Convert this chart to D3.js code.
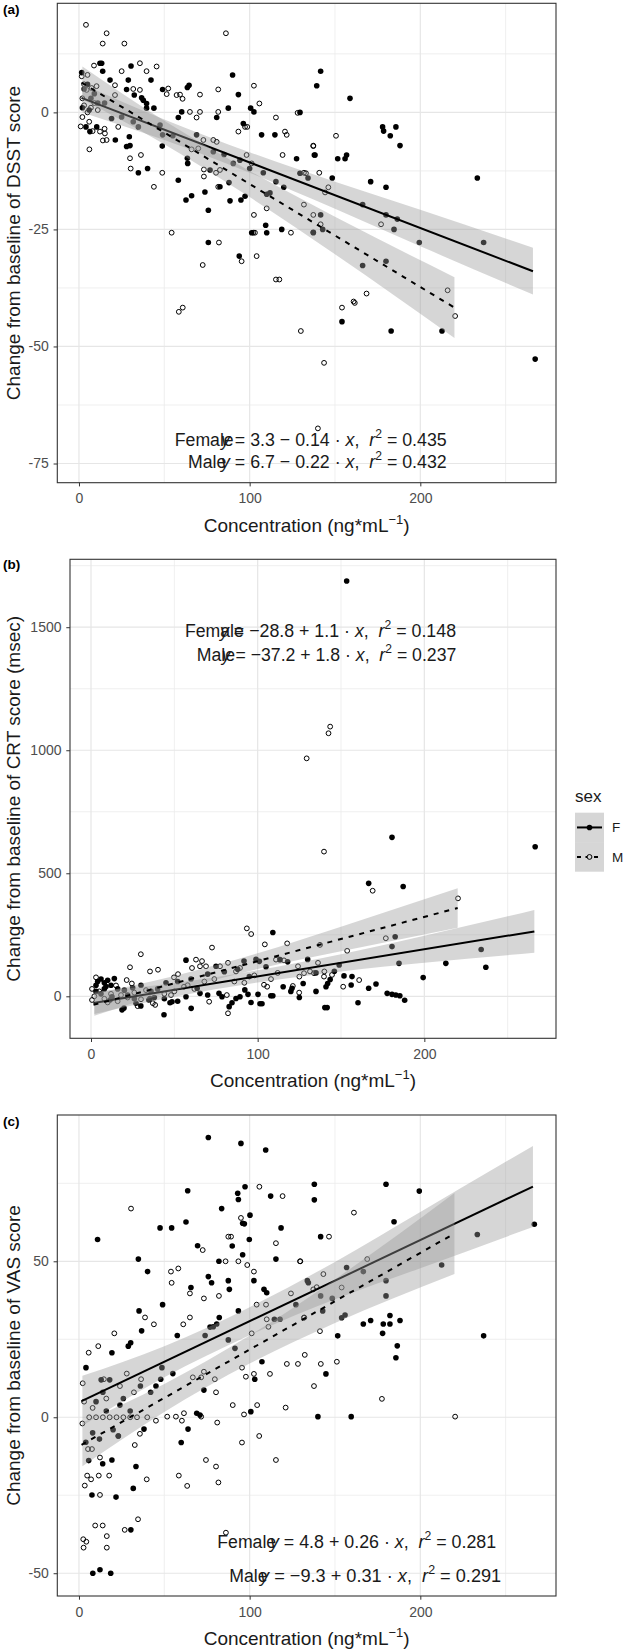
<!DOCTYPE html>
<html><head><meta charset="utf-8">
<script src="https://cdn.jsdelivr.net/npm/d3@7"></script>
<style>body{margin:0;background:#fff}svg{display:block}text{font-family:"Liberation Sans",Arial,sans-serif}</style>
</head><body><svg id="c" width="626" height="1652"></svg>
<script>
// ---------- DATA ----------
const xTicks=[0,100,200], xMinor=[50,150,250];
const dsstTicks=[-75,-50,-25,0], dsstMinor=[-62.5,-37.5,-12.5,12.5];
const crtTicks=[0,500,1000,1500], crtMinor=[250,750,1250,1750];
const vasTicks=[-50,0,50], vasMinor=[-25,25,75];
const sexes=["F","M"];
const sexNames=["Female","Male"];

const dsstF=[[1.6,8.5],[12.3,10.5],[13.3,10.5],[30.5,9.9],[13.9,8.8],[18.2,6.9],[28.9,6.9],[42.2,6.9],[27.9,4.9],[32.4,3.7],[36.7,3.1],[37.7,2.6],[39.6,1.9],[39.6,0.9],[43.9,0.9],[49,4.9],[64.5,5.8],[63.5,5.3],[90,8],[93.4,3.8],[100.6,0.9],[102.5,0.1],[87.5,0.9],[80.7,-1.1],[60.2,0.1],[58.2,-1.1],[96.3,-2.4],[107,-4.8],[114.8,-4.8],[138.3,-9.1],[127.5,-9.9],[4.1,-3.1],[6.4,-4.1],[10.4,-3.1],[21.3,-5.9],[29.5,-5.2],[29.9,-7.1],[27.9,-7.3],[34.8,-12.9],[40.2,-12],[49,-4.8],[48.8,-7.2],[58.2,-14.5],[63.5,-9.8],[63.7,-10.9],[62.7,-18.7],[66,-17.8],[76.8,-12.3],[82.6,-15.9],[73.8,-17],[75.8,-20.9],[88.5,-18.9],[87.9,-15],[94.9,-18.7],[97.3,-17.9],[75.8,-27.8],[93.9,-30.7],[101.2,-25.7],[110,-25.7],[109.4,-24.1],[118.8,-25],[115.4,-14.8],[108,-12.9],[90.4,-10.9],[19.1,-1.3],[31.8,-2],[34.8,-3.1],[47.5,-2.7],[68.9,-4.8],[78.7,-8.4],[129.5,-13],[137.3,-25.6],[110,-17.5],[111.9,-17.2],[94.3,-10.2],[3,5],[5,6],[7,3],[9,4],[11,2],[2,1],[6,0.5],[15,2],[25,-1],[55,-5],[85,-9],[100,-12],[120,-16],[141.6,8.8],[139.3,5.7],[158.8,3.0],[129.5,0.0],[177.9,-3.1],[178.5,-4.0],[182.4,-5.0],[185.7,-3.1],[188.1,-7.1],[137.9,-9.1],[151.6,-9.9],[155.9,-9.9],[156.8,-9.1],[148.4,-14.0],[170.9,-14.8],[179.9,-16.0],[233.4,-14.0],[166.2,-19.7],[179.9,-21.9],[186.5,-22.8],[184.6,-25.0],[199.4,-27.8],[237.1,-27.8],[166.2,-32.7],[179.9,-31.8],[134.2,-14],[141.6,-21.9],[142.8,-25],[137.3,-25.7],[154.1,-44.7],[182.9,-46.7],[212.7,-46.7],[267.3,-52.7]];
const dsstM=[[4.1,18.7],[16.2,16.9],[13.9,14.7],[26.6,14.7],[86.1,16.9],[8.8,10],[35.7,10.5],[39.6,8.8],[45.5,9.8],[25,8.8],[1.6,7.7],[21.1,5.8],[31.8,5],[35.7,4.8],[21.1,3.7],[4.5,4.8],[7.4,5.2],[10.3,5.6],[2,3],[3,1.5],[5,0],[7,1],[9,2],[11,0.5],[2,-1],[6,-2],[1,-3],[8,-4],[14,-6],[15,-3.5],[3,6],[5,8],[12.3,-4.1],[15.2,-4.5],[16.2,-5.9],[23,-3.1],[6.1,-7.9],[52.3,5.1],[51.4,3.9],[57.2,3.7],[59.2,3.8],[60.7,2.9],[70.9,3.8],[81.6,4.9],[102.5,5.7],[105.7,1.9],[81.6,0.1],[70.9,0.1],[68.9,-1.1],[65,0.1],[93.4,-4.1],[97.3,-3.1],[98.6,-3.1],[115.4,-1.1],[120.7,-4.1],[121.7,-4.8],[128.1,-0.1],[137.3,-7.2],[119.3,-9.1],[36.3,-9.1],[29.9,-9.8],[30.3,-12],[48.8,-12.9],[43.9,-15.9],[54.3,-25.7],[66,-7.9],[69.9,-7.7],[72.9,-5.9],[78.7,-5.9],[73.2,-12.2],[73.2,-13.7],[80.3,-12.9],[82.6,-12.3],[81.6,-15.9],[82,-27.8],[72.5,-32.6],[95.3,-31.8],[104.1,-30.7],[102.5,-21.9],[102.1,-25.7],[103.1,-25.7],[124.2,-25.7],[115.4,-35.7],[117.4,-35.7],[101.2,-10.9],[98.2,-9.1],[133,-13],[80.7,-6.3],[110,-20.5],[150.6,-5],[137.3,-7.1],[131.8,-12.9],[140.8,-12.9],[146.1,-16],[144.2,-17.1],[131.8,-19.7],[177,-23.9],[137.3,-21.9],[141.6,-23.9],[168.5,-38.7],[160.9,-40.4],[58.5,-42.6],[60.8,-41.7],[154.1,-41.7],[161.6,-40.7],[130,-46.7],[220.4,-43.5],[143.6,-53.5],[140,-67.5],[216,-38]];

const crtF=[[153.4,1688],[180.6,646],[266.5,608],[166.6,459],[187.3,446],[109.1,259],[182.5,242],[180.6,202],[234.1,190],[212.9,134],[236.9,118],[184.8,134],[199.3,76],[166.6,33],[171,50],[177.7,12],[180.6,8],[182.9,5],[185.3,2],[188.2,-16],[160.2,-26],[151.8,83],[156.1,46],[140.3,-46],[141.7,-46],[141,39],[142,52],[143.5,68],[148.9,127],[127.3,52],[120.6,33],[119.9,20],[115.3,39],[107.9,2],[109.1,2],[101.4,-30],[102.6,-30],[100.2,8],[94.2,8],[82.9,-42],[84.6,-26],[87,-9],[89.4,-2],[92.3,26],[76.8,12],[78.6,-2],[60.1,-49],[57,-2],[63.7,33],[65.4,12],[43.8,-75],[48.6,-22],[47.4,-26],[29.9,-39],[34.7,-15],[35.4,-9],[27,-28],[19.8,-48],[18.6,-55],[11.4,-15],[12.6,-2],[57,147],[75,122],[91.8,143],[156.6,80],[99,150],[101,142],[113.4,149],[118,140],[130,150],[135,95],[146,102],[105,120],[95,80],[88,110],[80,100],[70,90],[60,70],[52,60],[45,55],[40,30],[36,20],[30,45],[25,35],[20,25],[3,20],[6,10],[8,30],[4,60],[6,70],[8,55],[10,65],[12,45],[14,72],[3,45],[9,40],[16,30],[22,5],[26,-10],[38,-5],[44,-10],[52,-20],[70,5],[96,-25],[125,-5],[135,20]];
const crtM=[[129.4,967],[143.5,1096],[142.5,1069],[139.8,588],[169,429],[220.2,398],[93.5,276],[96.1,253],[72.6,198],[117.7,215],[104.3,211],[29.9,171],[23.4,118],[176.9,236],[137.4,209],[153.7,185],[160.9,66],[151.3,39],[144.6,87],[124.9,15],[121.1,42],[103.8,47],[105.7,39],[82.2,-69],[81.5,5],[70.9,-22],[55.8,39],[38.5,-35],[37.1,-28],[3,77],[0.6,30],[0.6,-15],[15,44],[21.4,66],[24.5,52],[35.4,101],[40.2,108],[49.8,77],[52.2,90],[60.6,115],[63,149],[65.4,122],[66.6,143],[69,122],[77.4,122],[82.2,136],[87,101],[89.4,115],[111,149],[115.8,146],[124.2,122],[127.8,94],[131.4,101],[133.8,94],[136.2,136],[139.8,80],[5,20],[8,-10],[12,10],[16,-20],[18,5],[22,-5],[26,15],[30,-12],[33,25],[44,10],[50,20],[58,45],[62,30],[68,60],[74,70],[86,60],[92,55],[98,85],[108,70],[112,95],[125,80],[140,101],[2,0],[10,-25],[28,-40],[48,5]];

const vasF=[[75.8,89.7],[94.9,87.8],[109.4,85.7],[63.7,72.6],[93,71.8],[93.4,69.8],[97.3,73.9],[112.3,70.9],[83.6,66.9],[100.2,64.8],[95.9,62.2],[96.9,62],[62.7,62.6],[47.5,60.7],[54.3,60.7],[118.4,60.7],[10.9,57],[89.8,54.9],[99.8,57],[69.5,55],[95.9,52.1],[34.8,50.7],[82,50],[115.4,50.7],[40.2,46.7],[75.8,45.1],[77.7,43.1],[87.5,43.8],[88.1,41],[102.5,43.8],[65.6,41.6],[108.4,41],[110,39.9],[93.4,34.1],[49,36.1],[35.2,34.1],[36.7,27.7],[82.2,32],[78.7,29],[76.8,28.9],[57.6,26.2],[28.9,22.8],[30.3,23.9],[80.7,29.9],[73.9,26.2],[87.5,24.8],[114.5,31.4],[117.8,31.4],[127.1,36.1],[134.4,43.1],[91.4,22.1],[137.9,74.7],[137.9,69.7],[179.9,74.7],[199.4,72.5],[184.6,62.7],[141.6,57.9],[266.8,61.9],[166.6,29.9],[170.9,31],[178.3,29.9],[182.2,29.9],[182.2,32.6],[188.1,31],[177.9,26.9],[151.6,26.1],[237.1,26.1],[186.5,22.9],[233.4,58.6],[212.5,48.8],[156.8,48],[166.6,46.7],[179.9,43.8],[133.8,43.8],[141.6,38.9],[148.4,38.1],[179.9,38.9],[142.8,34.1],[153.9,31.9],[155.9,32.8],[19.3,20.7],[4.1,15.9],[24,3.9],[45.1,10],[47.9,12.2],[73.2,8.7],[103,12.2],[107.2,17.8],[144.7,13.9],[185.7,19.1],[140,0.2],[159.5,0.2],[100.7,1.8],[69,1.3],[70.9,0.7],[63.9,-3.8],[59.9,-8.1],[38.1,-3.8],[33.4,-15.8],[31.8,-22.8],[19.3,-13.7],[13.9,-14.9],[5.7,-13.9],[21.7,-25.6],[7.6,-24.9],[30.4,-36.1],[8.1,-50],[12.3,-48.9],[18.6,-50],[48.6,15.9],[14,8],[10,5],[16,2],[20,-4],[8,-5],[12,-7],[4,-8],[26,6],[36,10],[42,8],[55,14],[30,2],[13,12],[18,12],[23,-6]];
const vasM=[[105.7,73.9],[119.3,70.9],[30.5,66.9],[94.9,63.9],[87.5,57.9],[89.1,57.9],[115.4,55.8],[72.5,53.6],[85.9,50],[93.4,50],[129.7,50],[98.6,48.8],[102.5,46.7],[53.9,46.7],[58.2,47.7],[54.3,43.1],[65,39.7],[73.2,38.1],[82,38.9],[109.6,36.1],[104.1,36.1],[38.7,32],[65,32],[61.1,29.8],[43.9,29.8],[20.7,26.9],[11.3,22.8],[110,31.4],[111,29],[124.2,39.7],[132,32],[137.3,41],[139.3,41.7],[101.2,26.9],[161.1,65.6],[146.5,57.9],[129.5,50],[168.9,50.7],[143.2,45.9],[153.9,41.6],[131.8,31.9],[141.2,27.6],[5.7,20.7],[2.2,10.9],[14.6,12.2],[32.2,8],[36.4,12.2],[66.7,12.8],[71.6,12.8],[73.2,14.6],[80.3,8],[79.6,12.2],[90.1,3.9],[95.5,15.9],[97.8,13],[102.5,13.9],[104.4,3.9],[111.9,13.9],[121.8,17.1],[128.3,17.1],[132.3,20],[141.7,17.1],[151.1,17.8],[137.7,10],[121.1,3.1],[177.5,5.9],[220.4,0.2],[96.7,0.9],[61.5,1.3],[56.8,0.2],[51.7,0.2],[45.1,-1.1],[71.6,0.2],[60.3,-1.1],[81,-1.7],[105.6,-6],[95.5,-8.1],[115.4,-13.7],[74.4,-13.7],[80.3,-15.8],[58.5,-18.7],[63.4,-22],[81.7,-20.9],[35.7,-5.3],[32.7,-8.9],[39.7,-19.9],[12.3,-12.9],[12.3,-24.9],[4.8,-18.7],[7.1,-19.9],[11.6,-18.7],[17.7,-18.7],[3.4,-21.9],[5.3,-10.2],[7.6,-10.2],[23.1,-6],[9.5,-34.7],[13.9,-34.7],[16.3,-38.1],[16.3,-41.8],[34.6,-32.7],[26.8,-36.1],[2.5,-39.1],[4.3,-39.9],[2.7,-41.8],[86.1,-37],[2,-2],[6,0],[10,0],[14,0],[18,0],[22,0],[26,0],[30,0],[34,0],[40,0],[8,3],[16,6],[24,10],[28,14],[3,5]];

// fitted lines: [intercept, slope], x-range
const dsstCoef=[[3.3,-0.14],[6.7,-0.22]];
const crtCoef=[[-28.8,1.1],[-37.2,1.8]];
const vasCoef=[[4.8,0.26],[-9.3,0.31]];
const fitRange=[[1.5,266],[1.5,220]];
const dsstR2=["0.435","0.432"], crtR2=["0.148","0.237"], vasR2=["0.281","0.291"];
const dsstEq=["3.3 − 0.14","6.7 − 0.22"], crtEq=["−28.8 + 1.1","−37.2 + 1.8"], vasEq=["4.8 + 0.26","−9.3 + 0.31"];

// confidence bands: x, lower, upper
const bandXF=[2,50,100,150,200,266], bandXM=[2,50,100,150,220];
const dsstLoF=[0.0,-5.9,-12.9,-20.6,-28.6,-38.9], dsstHiF=[6.0,-1.5,-8.5,-14.8,-20.8,-28.9];
const dsstLoM=[2.8,-6.8,-18.1,-30.3,-48.2], dsstHiM=[9.8,-1.8,-12.5,-22.3,-35.2];
const crtLoF=[-71.6,-1.8,56.2,101.2,136.2,176.8], crtHiF=[18.4,54.2,106.2,171.2,246.2,350.8];
const crtLoM=[-78.6,22.8,110.8,182.8,278.8], crtHiM=[11.4,82.8,174.8,282.8,438.8];
const vasLoF=[-2.7,12.8,26.3,37.8,47.8,61.0], vasHiF=[13.3,22.8,35.3,49.8,65.8,87.0];
const vasLoM=[-15.7,1.7,17.2,30.2,45.9], vasHiM=[-1.7,10.7,26.2,44.2,71.9];

// ---------- DRAW ----------
const svg=d3.select("#c");
const FONT='"Liberation Sans",Arial,sans-serif';

function drawPanel(p,idx){
  const x=d3.scaleLinear().domain(p.xd).range([p.left,p.right]);
  const y=d3.scaleLinear().domain(p.yd).range([p.bottom,p.top]);
  const g=svg.append("g");
  const cid="clip"+idx;
  svg.append("defs").append("clipPath").attr("id",cid).append("rect")
    .attr("x",p.left).attr("y",p.top).attr("width",p.right-p.left).attr("height",p.bottom-p.top);
  const pg=g.append("g").attr("clip-path",`url(#${cid})`);
  // grid
  pg.selectAll(".xm").data(xMinor).join("line").attr("x1",d=>x(d)).attr("x2",d=>x(d)).attr("y1",p.top).attr("y2",p.bottom).attr("stroke","#ebebeb").attr("stroke-width",0.8);
  pg.selectAll(".ym").data(p.yMinor).join("line").attr("y1",d=>y(d)).attr("y2",d=>y(d)).attr("x1",p.left).attr("x2",p.right).attr("stroke","#ebebeb").attr("stroke-width",0.8);
  pg.selectAll(".xM").data(xTicks).join("line").attr("x1",d=>x(d)).attr("x2",d=>x(d)).attr("y1",p.top).attr("y2",p.bottom).attr("stroke","#e6e6e6").attr("stroke-width",1.2);
  pg.selectAll(".yM").data(p.yTicks).join("line").attr("y1",d=>y(d)).attr("y2",d=>y(d)).attr("x1",p.left).attr("x2",p.right).attr("stroke","#e6e6e6").attr("stroke-width",1.2);
  // points
  pg.selectAll(".pf").data(p.F).join("circle").attr("cx",d=>x(d[0])).attr("cy",d=>y(d[1])).attr("r",2.8).attr("fill","#000");
  pg.selectAll(".pm").data(p.M).join("circle").attr("cx",d=>x(d[0])).attr("cy",d=>y(d[1])).attr("r",2.4).attr("fill","none").attr("stroke","#000").attr("stroke-width",1);
  // smooths: F ribbon, F line, M ribbon, M line
  [0,1].forEach(s=>{
    const bx=s===0?bandXF:bandXM, lo=p.lo[s], hi=p.hi[s];
    const area=d3.area().x(d=>x(d[0])).y0(d=>y(d[1])).y1(d=>y(d[2])).curve(d3.curveMonotoneX);
    pg.append("path").datum(bx.map((v,i)=>[v,lo[i],hi[i]])).attr("d",area).attr("fill","#999").attr("fill-opacity",0.4);
    const c=p.coef[s], r=fitRange[s];
    const ln=d3.line().x(d=>x(d)).y(d=>y(c[0]+c[1]*d));
    pg.append("path").datum(r).attr("d",ln).attr("fill","none").attr("stroke","#000").attr("stroke-width",2)
      .attr("stroke-dasharray",s===0?null:"5,6");
  });
  // border
  g.append("rect").attr("x",p.left).attr("y",p.top).attr("width",p.right-p.left).attr("height",p.bottom-p.top).attr("fill","none").attr("stroke","#333").attr("stroke-width",1.1);
  // axes
  const ax=g.append("g").attr("transform",`translate(0,${p.bottom})`).call(d3.axisBottom(x).tickValues(xTicks).tickSize(3.7).tickPadding(7).tickFormat(d=>String(d)));
  const ay=g.append("g").attr("transform",`translate(${p.left},0)`).call(d3.axisLeft(y).tickValues(p.yTicks).tickSize(3.7).tickPadding(4.8).tickFormat(d=>String(d)));
  [ax,ay].forEach(a=>{a.select(".domain").remove();a.selectAll("line").attr("stroke","#333");a.selectAll("text").attr("fill","#4d4d4d").attr("font-size",14).attr("font-family",FONT);});
  // titles
  g.append("text").attr("x",(p.left+p.right)/2).attr("y",p.bottom+49).attr("text-anchor","middle").attr("font-size",19).attr("fill","#1a1a1a")
    .text("Concentration (ng*mL").append("tspan").attr("font-size",13).attr("dy",-8).text("−1");
  g.select("text:last-of-type");
  const xt=g.selectAll("text").filter(function(){return this.textContent.startsWith("Concentration");});
  xt.append("tspan").attr("dy",8).text(")");
  g.append("text").attr("transform",`translate(19.5,${(p.top+p.bottom)/2}) rotate(-90)`).attr("text-anchor","middle").attr("font-size",19).attr("fill","#1a1a1a").text(p.ytitle);
  g.append("text").attr("x",3).attr("y",p.letterY).attr("font-size",13.5).attr("font-weight","bold").attr("fill","#000").text(p.letter);
  // equation labels
  p.ann.forEach((a,s)=>{
    const lab=g.append("text").attr("x",0).attr("y",a.yb).attr("font-size",19).attr("fill","#1a1a1a").text(sexNames[s]);
    lab.attr("transform",`translate(${a.lx},0) scale(0.93,1)`);
    const t=g.append("text").attr("x",0).attr("y",a.yb).attr("font-size",19).attr("fill","#1a1a1a").style("white-space","pre");
    t.append("tspan").attr("font-style","italic").text("y");
    t.append("tspan").text(" = "+p.eq[s]+" · ");
    t.append("tspan").attr("font-style","italic").text("x");
    t.append("tspan").text(",  ");
    t.append("tspan").attr("font-style","italic").text("r");
    t.append("tspan").attr("font-size",13).attr("dy",-8).text("2");
    t.append("tspan").attr("dy",8).text(" = "+p.r2[s]);
    const w=t.node().getBBox().width;
    t.attr("transform",`translate(${a.x0},0) scale(${(a.x1-a.x0)/w},1)`);
  });
}

drawPanel({left:57.3,right:556,top:3.3,bottom:482.7,xd:[-12.7,279.5],yd:[-79.1,23.3],yTicks:dsstTicks,yMinor:dsstMinor,
  F:dsstF,M:dsstM,coef:dsstCoef,lo:[dsstLoF,dsstLoM],hi:[dsstHiF,dsstHiM],eq:dsstEq,r2:dsstR2,
  ytitle:"Change from baseline of DSST score",letter:"(a)",letterY:14,
  ann:[{lx:174.8,yb:445.7,x0:221,x1:448.8},{lx:188,yb:468.3,x0:221,x1:448.8}]},0);
drawPanel({left:70,right:556,top:559.3,bottom:1038.3,xd:[-12.6,279],yd:[-170.7,1776],yTicks:crtTicks,yMinor:crtMinor,
  F:crtF,M:crtM,coef:crtCoef,lo:[crtLoF,crtLoM],hi:[crtHiF,crtHiM],eq:crtEq,r2:crtR2,
  ytitle:"Change from baseline of CRT score (msec)",letter:"(b)",letterY:569,
  ann:[{lx:185,yb:636.7,x0:220,x1:458},{lx:196.7,yb:661,x0:221.7,x1:458.3}]},1);
drawPanel({left:57.3,right:556,top:1115,bottom:1596,xd:[-12.7,279.5],yd:[-57.3,96.9],yTicks:vasTicks,yMinor:vasMinor,
  F:vasF,M:vasM,coef:vasCoef,lo:[vasLoF,vasLoM],hi:[vasHiF,vasHiM],eq:vasEq,r2:vasR2,
  ytitle:"Change from baseline of VAS score",letter:"(c)",letterY:1126,
  ann:[{lx:217.3,yb:1548.3,x0:270,x1:498.3},{lx:229.3,yb:1581.7,x0:260,x1:503.3}]},2);

// legend
const lg=svg.append("g");
lg.append("text").attr("x",575).attr("y",802.3).attr("font-size",17).attr("fill","#1a1a1a").text("sex");
const keyY=d3.scaleBand().domain(sexes).range([812.7,871.7]);
sexes.forEach((s,i)=>{
  const cy=keyY(s)+keyY.bandwidth()/2;
  lg.append("rect").attr("x",575).attr("y",keyY(s)).attr("width",29).attr("height",keyY.bandwidth()).attr("fill","#999").attr("fill-opacity",0.4);
  lg.append("line").attr("x1",577).attr("x2",602).attr("y1",cy).attr("y2",cy).attr("stroke","#000").attr("stroke-width",2).attr("stroke-dasharray",i===0?null:"4,4.5");
  if(i===0) lg.append("circle").attr("cx",589.5).attr("cy",cy).attr("r",2.8).attr("fill","#000");
  else lg.append("circle").attr("cx",589.5).attr("cy",cy).attr("r",2.4).attr("fill","#d6d6d6").attr("stroke","#000").attr("stroke-width",1);
  lg.append("text").attr("x",612).attr("y",cy+5).attr("font-size",13.5).attr("fill","#1a1a1a").text(s);
});
</script></body></html>
